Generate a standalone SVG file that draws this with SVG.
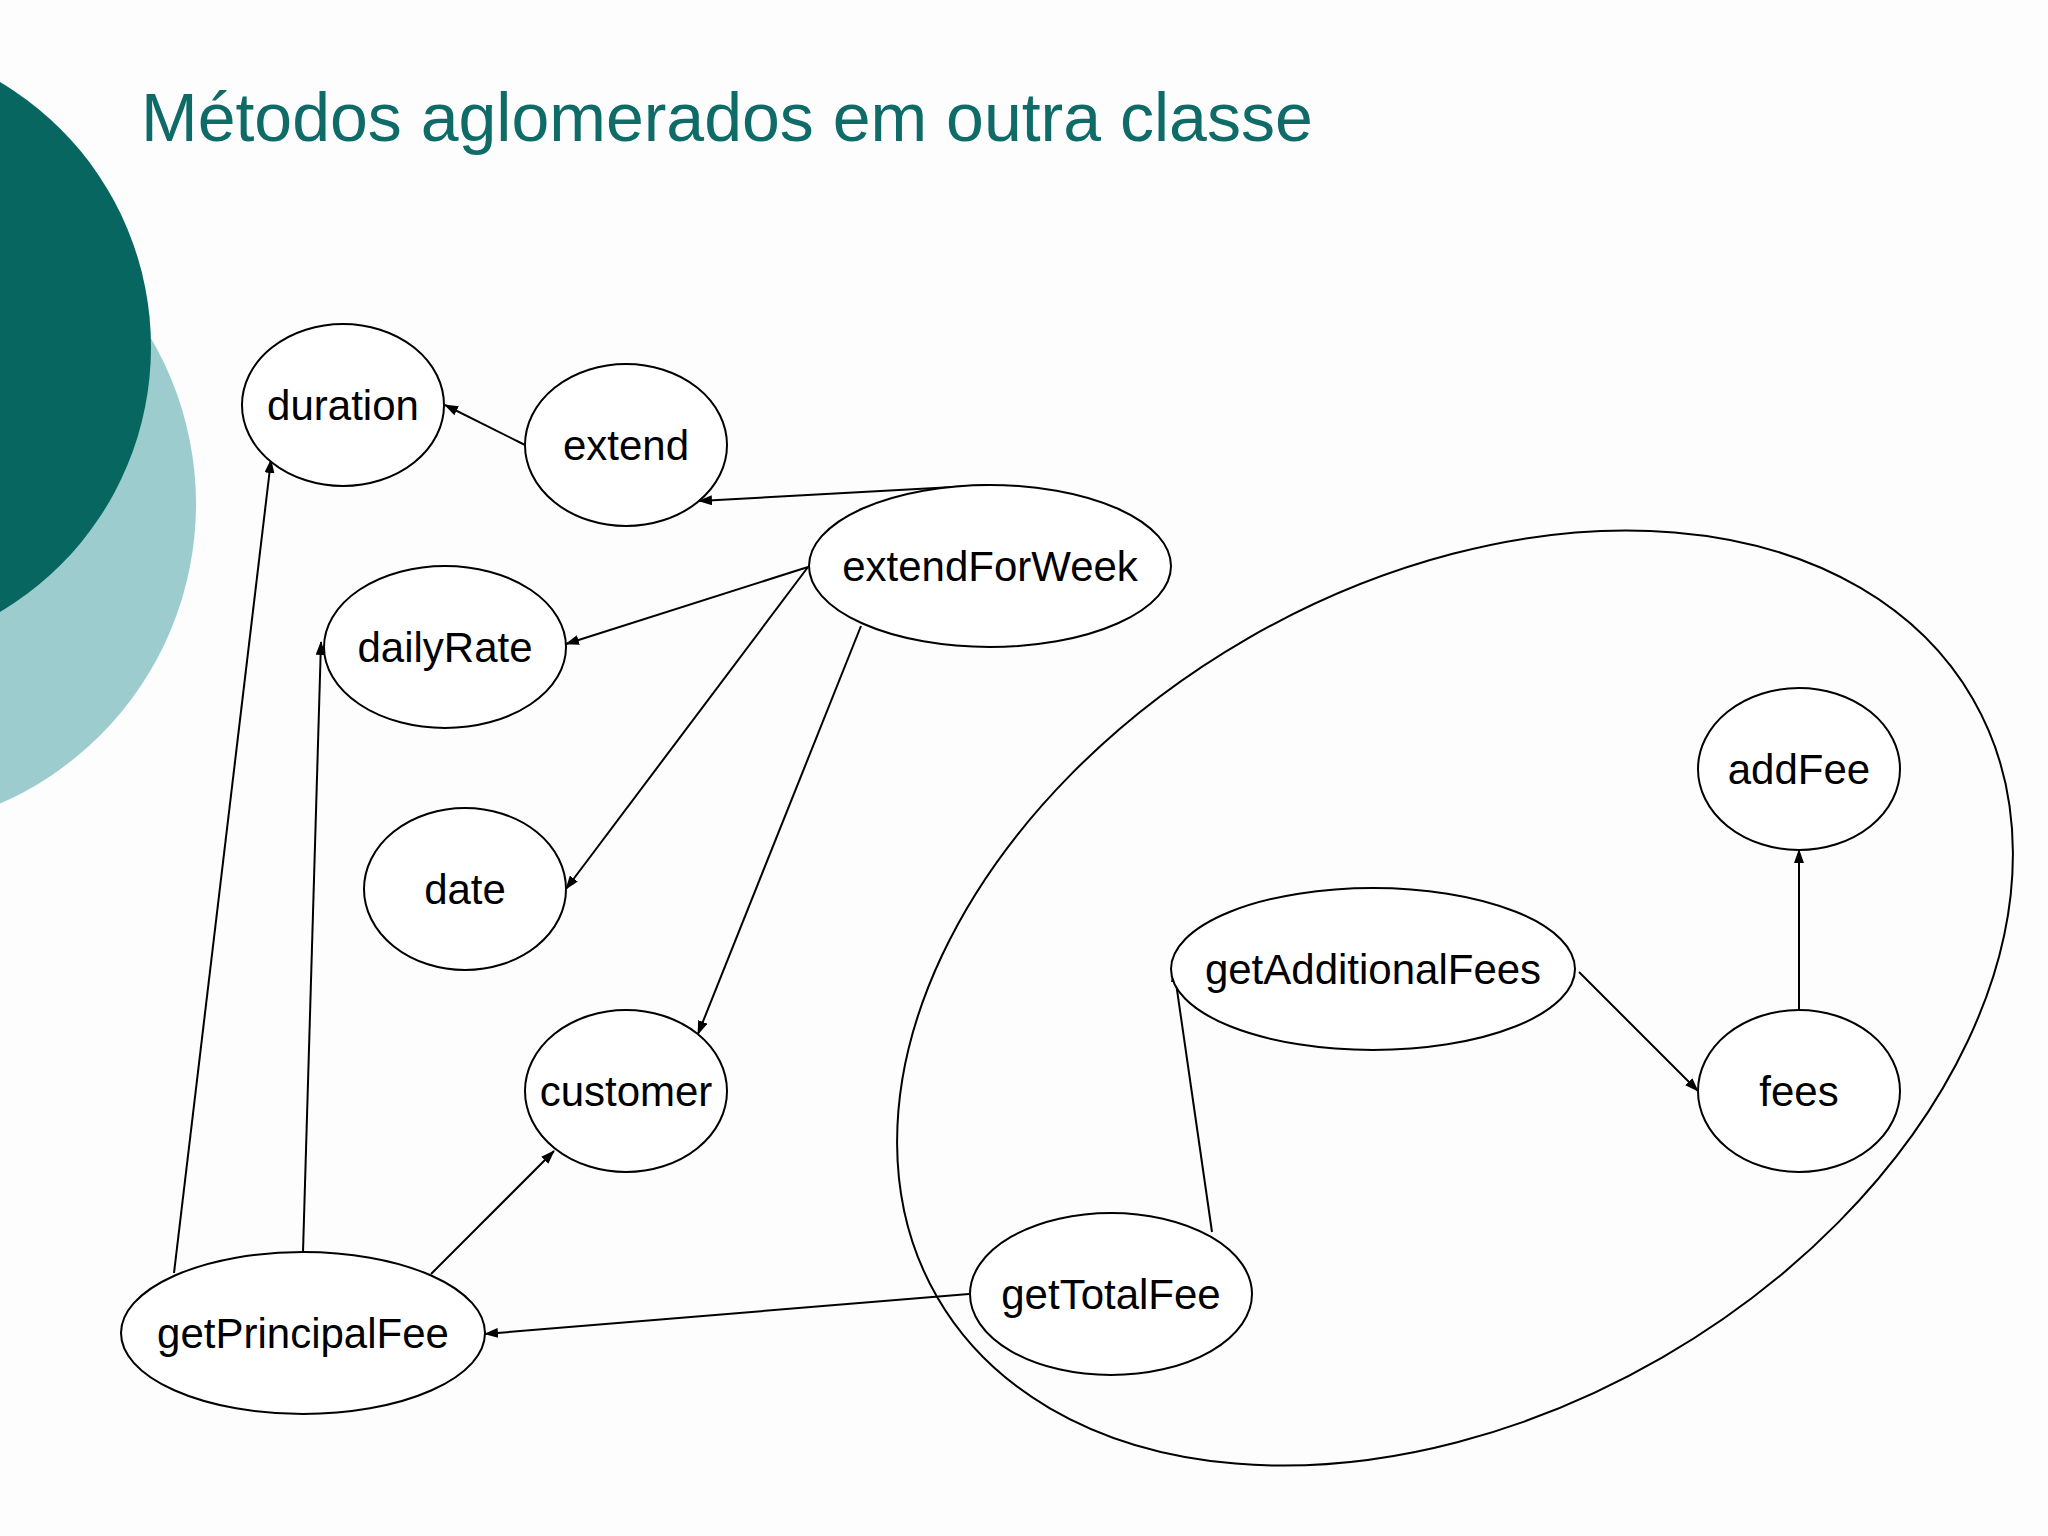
<svg xmlns="http://www.w3.org/2000/svg" width="2048" height="1536" viewBox="0 0 2048 1536">
<style>
.n ellipse{fill:#fff;stroke:#000;stroke-width:2}
.n text{font-family:"Liberation Sans",Arial,sans-serif;font-size:42px;text-anchor:middle;dominant-baseline:central;fill:#000}
#edges line{stroke:#000;stroke-width:2;marker-end:url(#a)}
</style>
<defs><marker id="a" markerWidth="14" markerHeight="10" refX="13" refY="5" orient="auto" markerUnits="userSpaceOnUse"><path d="M0,0 L14,5 L0,10 Z" fill="#000"/></marker></defs>
<rect width="2048" height="1536" fill="#fdfdfd"/>
<circle cx="-131" cy="504" r="327" fill="#9ccccd"/>
<circle cx="-157" cy="347" r="308" fill="#07665f"/>
<text x="141" y="141" font-family="Liberation Sans,Arial,sans-serif" font-size="68" fill="#0e6b67">Métodos aglomerados em outra classe</text>
<ellipse cx="1455" cy="998" rx="598" ry="415" transform="rotate(-30 1455 998)" fill="none" stroke="#000" stroke-width="2"/>
<g id="edges">
<line x1="525" y1="445" x2="445" y2="405"/>
<line x1="990" y1="485" x2="699" y2="501"/>
<line x1="808" y1="567" x2="566" y2="644"/>
<line x1="808" y1="567" x2="566" y2="889"/>
<line x1="861" y1="626" x2="698" y2="1034"/>
<line x1="174" y1="1273" x2="271" y2="460"/>
<line x1="303" y1="1252" x2="321" y2="642"/>
<line x1="431" y1="1274" x2="554" y2="1151"/>
<line x1="969" y1="1294" x2="485" y2="1334"/>
<line x1="1212" y1="1232" x2="1174" y2="969"/>
<line x1="1579" y1="972" x2="1698" y2="1091"/>
<line x1="1799" y1="1010" x2="1799" y2="850"/>
</g>
<g id="duration" class="n"><ellipse cx="343" cy="405" rx="101" ry="81"/><text x="343" y="405">duration</text></g>
<g id="extend" class="n"><ellipse cx="626" cy="445" rx="101" ry="81"/><text x="626" y="445">extend</text></g>
<g id="extendForWeek" class="n"><ellipse cx="990" cy="566" rx="181" ry="81"/><text x="990" y="566">extendForWeek</text></g>
<g id="dailyRate" class="n"><ellipse cx="445" cy="647" rx="121" ry="81"/><text x="445" y="647">dailyRate</text></g>
<g id="date" class="n"><ellipse cx="465" cy="889" rx="101" ry="81"/><text x="465" y="889">date</text></g>
<g id="customer" class="n"><ellipse cx="626" cy="1091" rx="101" ry="81"/><text x="626" y="1091">customer</text></g>
<g id="getPrincipalFee" class="n"><ellipse cx="303" cy="1333" rx="182" ry="81"/><text x="303" y="1333">getPrincipalFee</text></g>
<g id="getTotalFee" class="n"><ellipse cx="1111" cy="1294" rx="141" ry="81"/><text x="1111" y="1294">getTotalFee</text></g>
<g id="getAdditionalFees" class="n"><ellipse cx="1373" cy="969" rx="202" ry="81"/><text x="1373" y="969">getAdditionalFees</text></g>
<g id="addFee" class="n"><ellipse cx="1799" cy="769" rx="101" ry="81"/><text x="1799" y="769">addFee</text></g>
<g id="fees" class="n"><ellipse cx="1799" cy="1091" rx="101" ry="81"/><text x="1799" y="1091">fees</text></g>
</svg>
